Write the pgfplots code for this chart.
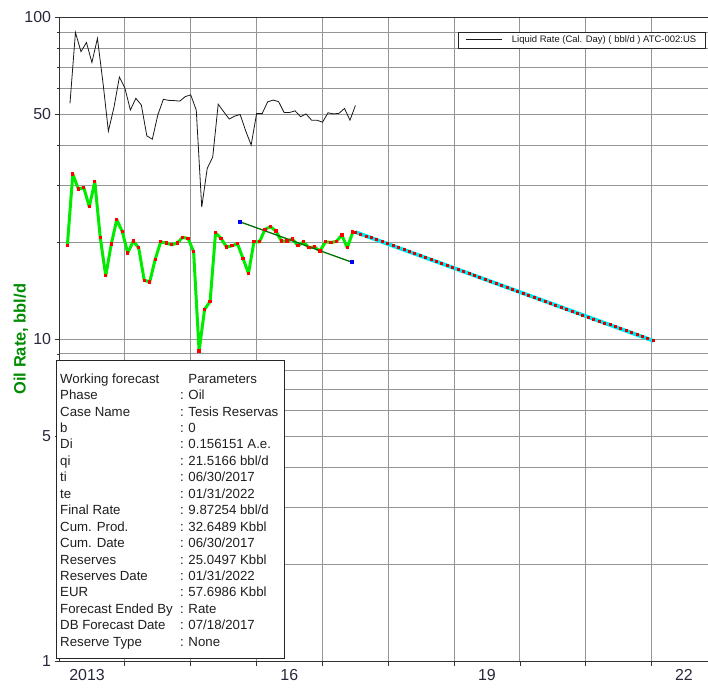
\documentclass[border=0pt]{standalone}
\usepackage{pgfplots}
\usepackage{pgfplotstable}
\pgfplotsset{compat=1.18}
\usepackage{fontspec}
\setmainfont{Liberation Sans}
\definecolor{gridc}{RGB}{150,150,150}
\definecolor{tickc}{RGB}{40,40,60}
\definecolor{limeg}{RGB}{0,235,0}
\definecolor{trendg}{RGB}{0,110,0}
\definecolor{ylab}{RGB}{0,140,0}
\definecolor{cyanf}{RGB}{0,230,240}

\pgfplotstableread{
t        oil    tl       liq
2013.130 19.50 2013.170 54.0
2013.213 32.58 2013.253 89.7
2013.297 29.26 2013.337 78.2
2013.380 29.53 2013.420 83.5
2013.463 25.78 2013.503 72.4
2013.547 30.83 2013.587 86.0
2013.630 20.65 2013.670 62.9
2013.713 15.73 2013.753 44.3
2013.797 19.74 2013.837 52.4
2013.880 23.49 2013.920 65.2
2013.963 21.61 2014.003 60.3
2014.047 18.51 2014.087 51.5
2014.130 20.16 2014.170 56.0
2014.213 19.22 2014.253 53.4
2014.297 15.25 2014.337 42.8
2014.380 15.04 2014.420 41.8
2014.463 17.69 2014.503 49.7
2014.547 20.06 2014.587 55.6
2014.630 19.88 2014.670 55.2
2014.713 19.64 2014.753 55.1
2014.797 19.88 2014.837 54.9
2014.880 20.71 2014.920 56.7
2014.963 20.56 2015.003 57.4
2015.047 18.68 2015.087 51.5
2015.130 9.18  2015.170 25.7
2015.213 12.37 2015.253 33.9
2015.297 13.10 2015.337 36.8
2015.380 21.40 2015.420 53.7
2015.463 20.56 2015.503 50.9
2015.547 19.32 2015.587 48.3
2015.630 19.50 2015.670 49.3
2015.713 19.79 2015.753 49.9
2015.797 17.81 2015.837 44.4
2015.880 16.01 2015.920 40.1
2015.963 20.06 2016.003 50.2
2016.047 20.06 2016.087 50.2
2016.130 21.93 2016.170 54.6
2016.213 22.35 2016.253 55.3
2016.297 21.66 2016.337 54.7
2016.380 20.16 2016.420 50.6
2016.463 20.16 2016.503 50.6
2016.547 20.46 2016.587 51.2
2016.630 19.50 2016.670 49.1
2016.713 20.06 2016.753 50.1
2016.797 19.22 2016.837 47.9
2016.880 19.36 2016.920 47.9
2016.963 18.77 2017.003 47.2
2017.047 20.06 2017.087 50.5
2017.130 19.97 2017.170 50.1
2017.213 20.12 2017.253 50.3
2017.297 21.05 2017.337 52.1
2017.380 19.22 2017.420 47.9
2017.463 21.51 2017.503 53.2
}\histtab

\pgfplotstableread{
t        q
2017.500 21.517
2017.582 21.214
2017.665 20.916
2017.747 20.622
2017.829 20.333
2017.912 20.047
2017.994 19.766
2018.076 19.488
2018.158 19.214
2018.241 18.944
2018.323 18.678
2018.405 18.416
2018.488 18.157
2018.570 17.902
2018.652 17.651
2018.735 17.403
2018.817 17.158
2018.899 16.917
2018.981 16.680
2019.064 16.445
2019.146 16.214
2019.228 15.987
2019.311 15.762
2019.393 15.541
2019.475 15.322
2019.558 15.107
2019.640 14.895
2019.722 14.685
2019.804 14.479
2019.887 14.276
2019.969 14.075
2020.051 13.878
2020.134 13.683
2020.216 13.491
2020.298 13.301
2020.381 13.114
2020.463 12.929
2020.545 12.748
2020.627 12.569
2020.710 12.392
2020.792 12.218
2020.874 12.047
2020.957 11.878
2021.039 11.711
2021.121 11.546
2021.204 11.384
2021.286 11.224
2021.368 11.066
2021.450 10.910
2021.533 10.757
2021.615 10.606
2021.697 10.457
2021.780 10.310
2021.862 10.165
2021.944 10.022
2022.027 9.881
}\fctab

\begin{document}
\begin{tikzpicture}
\useasboundingbox (0,0) rectangle (708bp,690bp);
\begin{axis}[
  at={(59.5bp,29bp)}, anchor=south west,
  scale only axis, width=652bp, height=643.7bp,
  ymode=log, ymin=1, ymax=100,
  xmin=2013.011, xmax=2022.908,
  axis line style={black!80, line width=0.8bp},
  xtick={2013,2014,...,2022}, xticklabels={},
  minor x tick num=11,
  ytick={1,5,10,50,100}, yticklabels={1,5,10,50,100},
  minor ytick={2,3,4,6,7,8,9,20,30,40,60,70,80,90},
  xmajorgrids=true, xminorgrids=false,
  ymajorgrids=true, yminorgrids=true,
  major grid style={gridc, line width=1bp},
  minor grid style={gridc, line width=1bp},
  xtick pos=bottom, ytick pos=left,
  tick align=outside,
  major tick length=5bp, minor tick length=3bp,
  tick style={black!80, line width=0.7bp},
  extra x ticks={2013.43,2016.5,2019.5,2022.49},
  extra x tick labels={2013,16,19,22},
  extra x tick style={grid=none, tick style={draw=none}},
  ticklabel style={font=\fontsize{16}{18}\selectfont, text=tickc},
  /pgf/number format/assume math mode=true,
  ylabel={Oil Rate, bbl/d},
  ylabel style={at={(axis description cs:-0.0590,0.5)}, anchor=center,
     font=\fontsize{16.5}{18}\selectfont\bfseries, text=ylab},
]
\addplot[color=black!90, line width=0.8bp] table[x=tl, y=liq] {\histtab};

\addplot[cyanf, line width=3.8bp, mark=square*, mark size=1bp,
   mark options={fill=red!85!black, draw=red!85!black, line width=0bp}] table[x=t, y=q] {\fctab};

\addplot[limeg, line width=3bp, line join=round,
   mark=square*, mark size=1.15bp,
   mark options={fill=red, draw=red, line width=0bp}] table[x=t, y=oil] {\histtab};

\addplot[trendg, line width=1.3bp, mark=square*, mark size=1.4bp,
   mark options={fill=blue, draw=blue, line width=0bp}]
   coordinates {(2015.75,23.15) (2017.446,17.35)};
\end{axis}

% legend box (Liquid Rate)
\draw[black!85, line width=0.9bp, fill=white] (458bp,642bp) rectangle (705.7bp,658bp);
\draw[black!90, line width=0.8bp] (466bp,650.5bp) -- (502bp,650.5bp);
\node[anchor=west, inner sep=0pt, font=\fontsize{9.5}{11}\selectfont, text=black!90]
  at (511.7bp,650.3bp) {Liquid Rate (Cal. Day) ( bbl/d ) ATC-002:US};

% forecast parameter box
\draw[black!85, line width=0.9bp, fill=white] (56.7bp,31.7bp) rectangle (284.3bp,329.3bp);
\node[anchor=north west, inner sep=0pt, text=black!88,
      font=\fontsize{13.3}{16.5}\selectfont] at (60bp,318.5bp) {%
\begin{tabular}{@{}l@{}l@{}}
\makebox[120bp][l]{Working forecast} & \hspace{8.3bp}Parameters\\
Phase & \makebox[8.3bp][l]{:}Oil\\
Case Name & \makebox[8.3bp][l]{:}Tesis Reservas\\
b & \makebox[8.3bp][l]{:}0\\
Di & \makebox[8.3bp][l]{:}0.156151 A.e.\\
qi & \makebox[8.3bp][l]{:}21.5166 bbl/d\\
ti & \makebox[8.3bp][l]{:}06/30/2017\\
te & \makebox[8.3bp][l]{:}01/31/2022\\
Final Rate & \makebox[8.3bp][l]{:}9.87254 bbl/d\\
Cum. Prod. & \makebox[8.3bp][l]{:}32.6489 Kbbl\\
Cum. Date & \makebox[8.3bp][l]{:}06/30/2017\\
Reserves & \makebox[8.3bp][l]{:}25.0497 Kbbl\\
Reserves Date & \makebox[8.3bp][l]{:}01/31/2022\\
EUR & \makebox[8.3bp][l]{:}57.6986 Kbbl\\
Forecast Ended By & \makebox[8.3bp][l]{:}Rate\\
DB Forecast Date & \makebox[8.3bp][l]{:}07/18/2017\\
Reserve Type & \makebox[8.3bp][l]{:}None
\end{tabular}};
\end{tikzpicture}
\end{document}
